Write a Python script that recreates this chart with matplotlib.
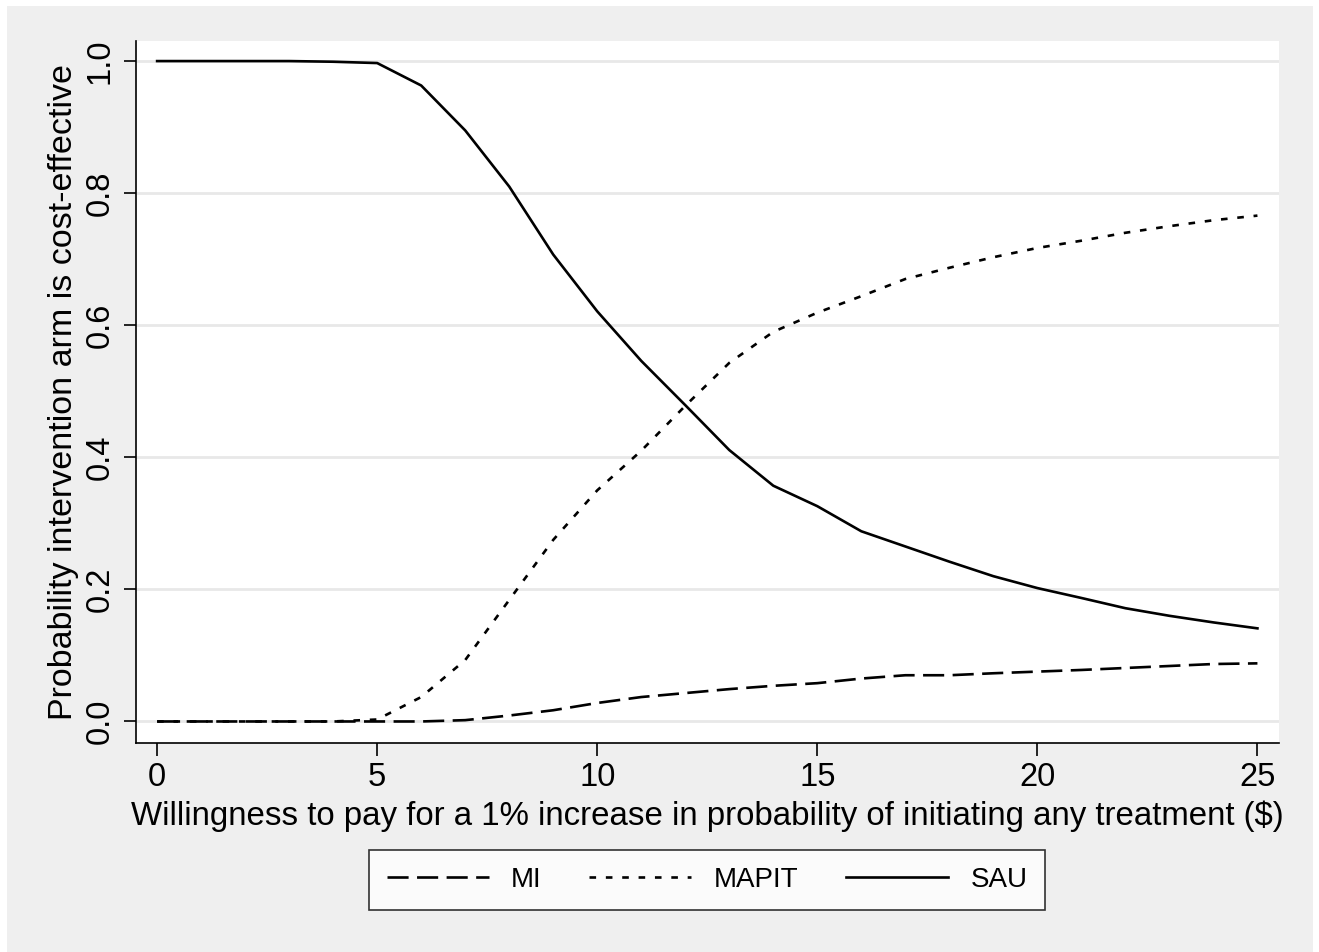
import matplotlib
matplotlib.use('Agg')
import matplotlib.pyplot as plt
from matplotlib.patches import Rectangle

plt.rcParams['font.family'] = ['Liberation Sans', 'DejaVu Sans']

# willingness to pay ($)
wtp = list(range(0, 26))

mi = [0.0, 0.0, 0.0, 0.0, 0.0, 0.0, 0.0, 0.002, 0.009, 0.017, 0.028,
      0.037, 0.043, 0.049, 0.054, 0.058, 0.065, 0.070, 0.070, 0.073, 0.0755,
      0.078, 0.081, 0.084, 0.087, 0.088]
mapit = [0.0, 0.0, 0.0, 0.0, 0.0, 0.003, 0.037, 0.093, 0.184, 0.275, 0.350,
         0.410, 0.478, 0.543, 0.590, 0.619, 0.644, 0.670, 0.687, 0.703, 0.717,
         0.728, 0.740, 0.750, 0.759, 0.766]
sau = [1.0, 1.0, 1.0, 1.0, 0.999, 0.997, 0.963, 0.895, 0.810, 0.707, 0.621,
       0.546, 0.479, 0.411, 0.357, 0.326, 0.288, 0.265, 0.242, 0.220, 0.202,
       0.187, 0.1715, 0.160, 0.150, 0.141]

W, H = 1319, 952
fig = plt.figure(figsize=(W / 100, H / 100), dpi=100)
fig.patch.set_facecolor('white')
fig.patches.append(Rectangle((7 / W, 0), (W - 13) / W, (H - 6) / H,
                             transform=fig.transFigure, facecolor='#efefef',
                             edgecolor='none', zorder=-10))

ax = fig.add_axes([136 / W, (H - 743) / H, (1279 - 136) / W, (743 - 40.6) / H])
ax.set_facecolor('white')

lw = 1.9
ax.plot(wtp, mi, color='black', lw=lw, dashes=(8.0, 3.2), label='MI')
ax.plot(wtp, mapit, color='black', lw=lw, dashes=(2.5, 3.7), label='MAPIT')
ax.plot(wtp, sau, color='black', lw=lw, label='SAU')

ax.set_xlim(-0.48, 25.49)
ax.set_ylim(-0.0326, 1.031)
ax.set_xticks([0, 5, 10, 15, 20, 25])
ax.set_yticks([0, 0.2, 0.4, 0.6, 0.8, 1.0])
ax.set_yticklabels(['0.0', '0.2', '0.4', '0.6', '0.8', '1.0'], rotation=90, va='center')
ax.tick_params(axis='both', length=9, width=1.2, labelsize=23.5, direction='out')
ax.tick_params(axis='x', pad=5)
ax.tick_params(axis='y', pad=5.5)
ax.grid(axis='y', color='#e8e8e8', lw=2)
ax.set_axisbelow(True)
for s in ['top', 'right']:
    ax.spines[s].set_visible(False)
for s in ['left', 'bottom']:
    ax.spines[s].set_linewidth(1.2)

ax.set_xlabel('Willingness to pay for a 1% increase in probability of initiating any treatment ($)',
              fontsize=23.8, labelpad=5)
ax.set_ylabel('Probability intervention arm is cost-effective', fontsize=24.5, labelpad=4)

leg = fig.legend(loc='center', bbox_to_anchor=(707 / W, 1 - 880 / H), ncol=3,
                 fontsize=20, frameon=True, fancybox=False, edgecolor='black',
                 handlelength=3.67, handletextpad=0.8, columnspacing=1.73,
                 borderpad=0.62)
leg.get_frame().set_linewidth(1.2)

fig.savefig('out.png', dpi=100, facecolor=fig.get_facecolor())
